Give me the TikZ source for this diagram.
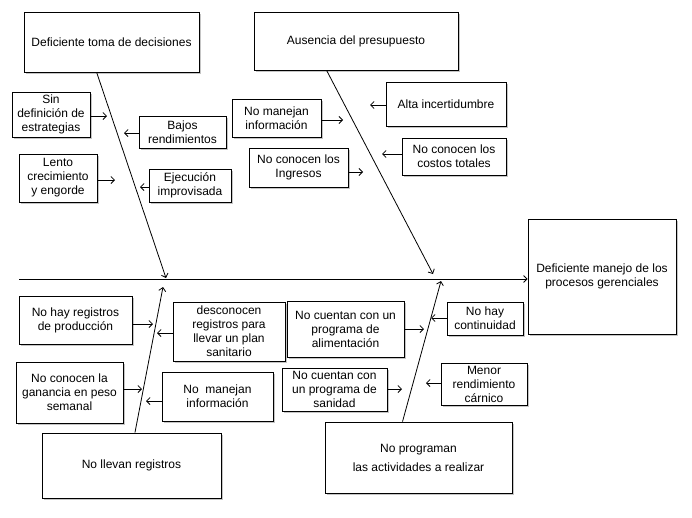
\documentclass[tikz,border=0pt]{standalone}
\usepackage{fontspec}
\setmainfont{Liberation Sans}
\usetikzlibrary{shadows,arrows.meta}
\begin{document}
\begin{tikzpicture}[x=1pt,y=-1pt,>={Straight Barb[length=3.5pt,width=7pt]},line width=0.8pt,
  box/.style={draw,fill=white,align=center,inner sep=1pt,font=\fontsize{12}{14}\selectfont,
    drop shadow={shadow xshift=1.5pt,shadow yshift=-1.5pt,fill=black!45}}]
\useasboundingbox (0,0) rectangle (692,517);

% main causes and effect
\node[box,minimum width=175,minimum height=60] (dec) at (111.5,42) {Deficiente toma de decisiones};
\node[box,minimum width=204,minimum height=58] (pres) at (356,41) {Ausencia del presupuesto};
\node[box,minimum width=148,minimum height=115] (main) at (602,276.5) {Deficiente manejo de los\\procesos gerenciales};
\node[box,minimum width=179,minimum height=65] (reg) at (131.5,465.5) {No llevan registros};
\node[box,minimum width=187,minimum height=71] (prog) at (418.5,457.5) {No programan\\[5pt]las actividades a realizar};

% upper sub-causes
\node[box,minimum width=78,minimum height=45] (sindef) at (51,114.5) {Sin\\definición de\\estrategias};
\node[box,minimum width=87,minimum height=32] (bajos) at (182.5,132) {Bajos\\rendimientos};
\node[box,minimum width=78,minimum height=48] (lento) at (58,178) {Lento\\crecimiento\\y engorde};
\node[box,minimum width=82,minimum height=33] (ejec) at (190,185.5) {Ejecución\\improvisada};
\node[box,minimum width=89,minimum height=38] (infoA) at (276.5,118) {No manejan\\información};
\node[box,minimum width=99,minimum height=39] (ingr) at (298.5,167.5) {No conocen los\\Ingresos};
\node[box,minimum width=120,minimum height=44] (alta) at (446,104) {Alta incertidumbre};
\node[box,minimum width=104,minimum height=37] (costos) at (454,156.5) {No conocen los\\costos totales};

% lower sub-causes
\node[box,minimum width=113,minimum height=48] (prod) at (75.5,320) {No hay registros\\de producción};
\node[box,minimum width=112,minimum height=59] (sanit) at (229,331.5) {desconocen\\registros para\\llevar un plan\\sanitario};
\node[box,minimum width=107,minimum height=61] (gan) at (69.5,392.5) {No conocen la\\ganancia en peso\\semanal};
\node[box,minimum width=111,minimum height=49] (infoB) at (217.5,396.5) {No\ \ manejan\\información};
\node[box,minimum width=117,minimum height=56] (alim) at (345.5,329) {No cuentan con un\\programa de\\alimentación};
\node[box,minimum width=105,minimum height=43] (sanid) at (334.5,389.5) {No cuentan con\\un programa de\\sanidad};
\node[box,minimum width=76,minimum height=33] (cont) at (485,318.5) {No hay\\continuidad};
\node[box,minimum width=86,minimum height=42] (carn) at (484,384) {Menor\\rendimiento\\cárnico};

% spine and bones
\coordinate (tail) at (19,279);
\coordinate (tdec) at (166,278);
\coordinate (tpres) at (433,274);
\coordinate (treg) at (163,287);
\coordinate (tprog) at (441,281);
\draw[->] (tail) -- (tail -| main.west);
\draw[->] (dec.244) -- (tdec);
\draw[->] (pres.225) -- (tpres);
\draw[->] (reg.84) -- (treg);
\draw[->] (prog.114) -- (tprog);

% small arrows
\coordinate (a1) at (107,116);
\coordinate (a2) at (124,133);
\coordinate (a3) at (115,180);
\coordinate (a4) at (140,187);
\coordinate (a5) at (343,120);
\coordinate (a6) at (363,172);
\coordinate (a7) at (370,105);
\coordinate (a8) at (382,154);
\coordinate (b1) at (153,324);
\coordinate (b2) at (157,333);
\coordinate (b3) at (142,389);
\coordinate (b4) at (146,401);
\coordinate (b5) at (424,329);
\coordinate (b6) at (402,389);
\coordinate (b7) at (431,318);
\coordinate (b8) at (426,383);
\draw[->] (a1 -| sindef.east) -- (a1);
\draw[->] (a2 -| bajos.west) -- (a2);
\draw[->] (a3 -| lento.east) -- (a3);
\draw[->] (a4 -| ejec.west) -- (a4);
\draw[->] (a5 -| infoA.east) -- (a5);
\draw[->] (a6 -| ingr.east) -- (a6);
\draw[->] (a7 -| alta.west) -- (a7);
\draw[->] (a8 -| costos.west) -- (a8);
\draw[->] (b1 -| prod.east) -- (b1);
\draw[->] (b2 -| sanit.west) -- (b2);
\draw[->] (b3 -| gan.east) -- (b3);
\draw[->] (b4 -| infoB.west) -- (b4);
\draw[->] (b5 -| alim.east) -- (b5);
\draw[->] (b6 -| sanid.east) -- (b6);
\draw[->] (b7 -| cont.west) -- (b7);
\draw[->] (b8 -| carn.west) -- (b8);
\end{tikzpicture}
\end{document}
